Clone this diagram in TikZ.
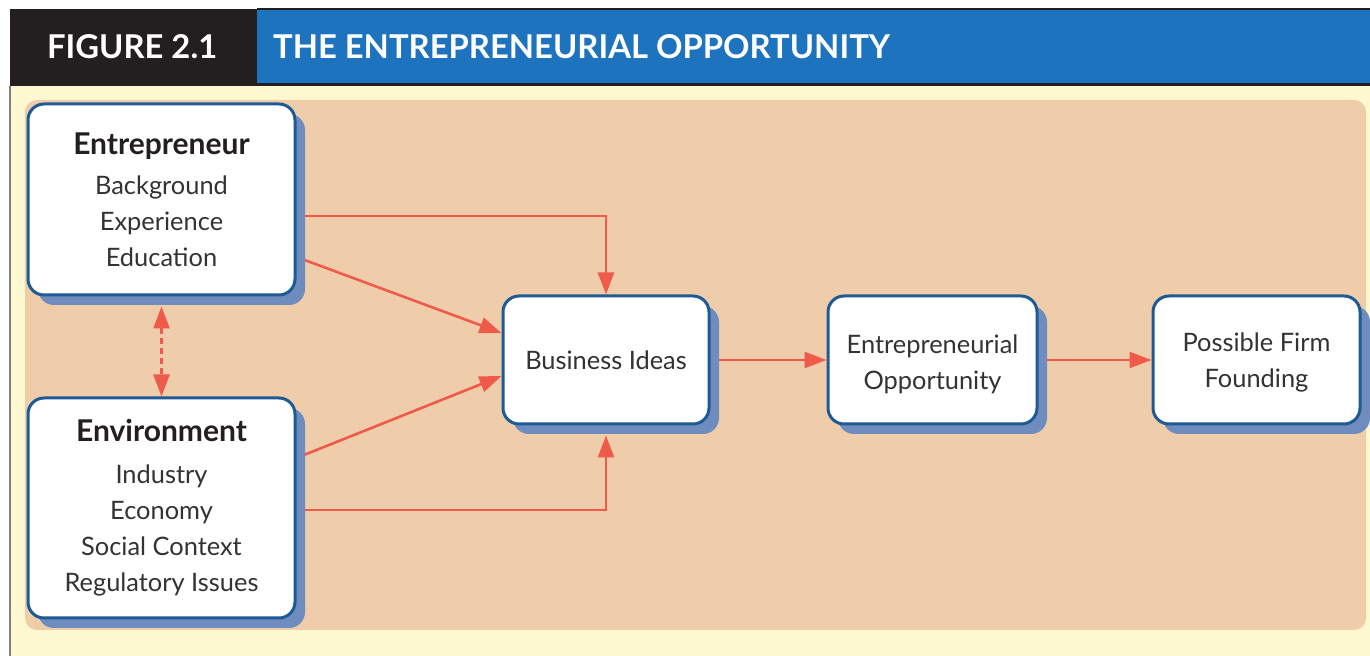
\documentclass[tikz,border=0pt]{standalone}
\usepackage{fontspec}
\setmainfont{Lato}
\usepackage{tikz}
\usetikzlibrary{arrows.meta,positioning,shadows}
\definecolor{inkblack}{RGB}{35,31,32}
\definecolor{headblue}{RGB}{30,115,190}
\definecolor{cream}{RGB}{254,248,208}
\definecolor{peach}{RGB}{239,205,170}
\definecolor{boxblue}{RGB}{29,90,150}
\definecolor{shadeblue}{RGB}{111,140,190}
\definecolor{coral}{RGB}{239,91,74}
\definecolor{textgray}{RGB}{51,51,51}
\pgfdeclarelayer{back}
\pgfdeclarelayer{mid}
\pgfsetlayers{back,mid,main}

\begin{document}
\begin{tikzpicture}[x=0.5pt, y=-0.5pt,
  box/.style={draw=boxblue, line width=1.5pt, fill=white, rounded corners=8pt,
    align=center, text=textgray, font=\fontsize{12.7}{18}\selectfont,
    drop shadow={shadow xshift=5pt, shadow yshift=-5pt, fill=shadeblue, opacity=1}},
  flow/.style={coral, line width=1.3pt, -{Triangle[length=11pt,width=8pt]}},
  headtext/.style={text=white, anchor=west, font=\fontsize{16.4}{18}\selectfont\bfseries}]
\useasboundingbox (0,0) rectangle (1370,656);

% frame and header
\begin{pgfonlayer}{back}
\fill[white] (0,0) rectangle (1370,656);
\fill[cream] (10,86) rectangle (1370,656);
\draw[gray, line width=1pt] (10,86) -- (10,656);
\fill[inkblack] (10,9) rectangle (257,86);
\fill[headblue] (257,9) rectangle (1370,86);
\draw[inkblack, line width=1.2pt] (257,9) -- (1370,9);
\draw[inkblack, line width=1.5pt] (257,85) -- (1370,85);
\fill[peach, rounded corners=6pt] (25,100) rectangle (1366,630);
\end{pgfonlayer}
\node[headtext] (fig) at (40,47) {FIGURE 2.1};
\node[headtext] (title) at (266,47) {THE ENTREPRENEURIAL OPPORTUNITY};

% boxes
\node[box, minimum width=133.5pt, minimum height=95.5pt] (ent) at (161.5,199.5)
  {{\fontsize{15}{18}\selectfont\bfseries\color{inkblack}Entrepreneur}\\[2pt]Background\\Experience\\Education};
\node[box, minimum width=133.5pt, minimum height=110pt] (env) at (161.5,508)
  {{\fontsize{15}{18}\selectfont\bfseries\color{inkblack}Environment}\\[3pt]Industry\\Economy\\Social Context\\Regulatory Issues};
\node[box, minimum width=103pt, minimum height=64pt] (idea) at (606,360) {Business Ideas};
\node[box, minimum width=104.5pt, minimum height=64pt] (opp) at (932.5,360) {\rule{0pt}{14pt}Entrepreneurial\\Opportunity};
\node[box, minimum width=103.5pt, minimum height=64pt] (firm) at (1256.5,360) {\rule{0pt}{12pt}Possible Firm\\Founding};

% connectors
\begin{pgfonlayer}{mid}
\draw[flow] (ent.east |- 0,216) -| (idea.north);
\draw[flow] (ent.east |- 0,257) -- (idea.west |- 0,333);
\draw[flow] (env.east |- 0,458) -- (idea.west |- 0,376);
\draw[flow] (env.east |- 0,510) -| ([yshift=-5pt]idea.south);
\draw[flow] (idea.east) -- (opp.west);
\draw[flow] (opp.east) -- (firm.west);
\draw[flow, dash pattern=on 3pt off 2pt, {Triangle[length=11pt,width=8pt]}-{Triangle[length=11pt,width=8pt]}]
  ([yshift=-5pt]ent.south) -- (env.north);
\end{pgfonlayer}
\end{tikzpicture}
\end{document}
